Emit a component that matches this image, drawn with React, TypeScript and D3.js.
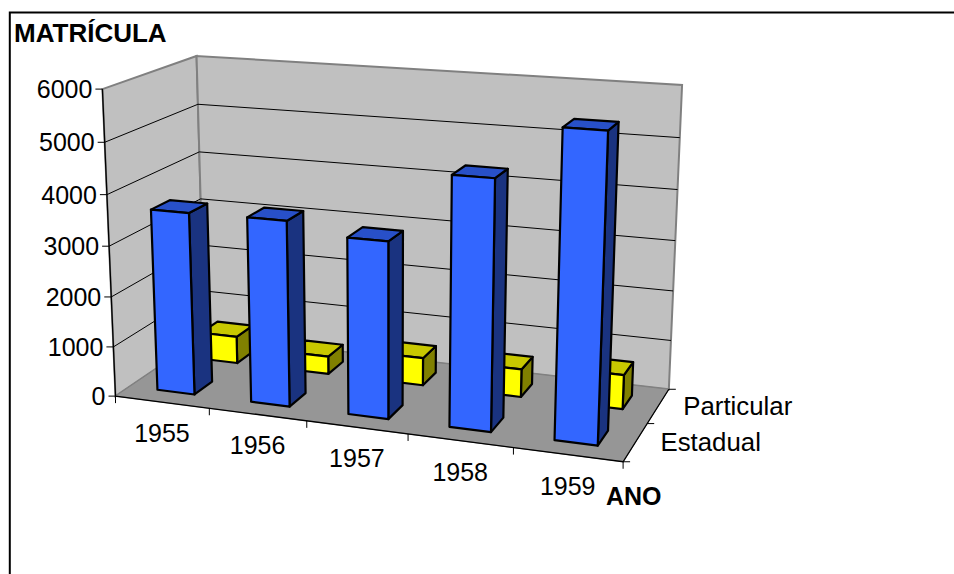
import React from "react";
import * as d3 from "d3";

const years = ["1955", "1956", "1957", "1958", "1959"];
const seriesNames = ["Estadual", "Particular"];
const estadual = [3620, 3640, 3430, 4760, 5750];
const particular = [560, 365, 560, 560, 680];
const valueTicks = [0, 1000, 2000, 3000, 4000, 5000, 6000];

const WIDTH = 954;
const HEIGHT = 574;

// Known corners of the plot box: [u, v, w] in unit space -> screen position.
const boxCorners: [number, number, number, number, number][] = [
  [0, 0, 0, 116, 396],
  [0, 1, 0, 102, 89],
  [0, 0, 1, 204, 336],
  [0, 1, 1, 197, 56],
  [1, 0, 0, 623, 462],
  [1, 0, 1, 669, 389],
  [1, 1, 1, 682, 85],
];

// Least-squares fit of a pinhole camera (11 unknowns) via normal equations.
function fitCamera(corners: typeof boxCorners) {
  const S = 1000;
  const rows: number[][] = [];
  const rhs: number[] = [];
  for (const [u, v, w, px, py] of corners) {
    const x = px / S;
    const y = py / S;
    rows.push([u, v, w, 1, 0, 0, 0, 0, -x * u, -x * v, -x * w]);
    rhs.push(x);
    rows.push([0, 0, 0, 0, u, v, w, 1, -y * u, -y * v, -y * w]);
    rhs.push(y);
  }
  const n = 11;
  const A = d3.range(n).map((i) => {
    const line = d3.range(n).map((j) => d3.sum(rows, (r) => r[i] * r[j]));
    line.push(d3.sum(rows, (r, k) => r[i] * rhs[k]));
    return line;
  });
  for (let i = 0; i < n; i++) {
    let p = i;
    for (let k = i + 1; k < n; k++) if (Math.abs(A[k][i]) > Math.abs(A[p][i])) p = k;
    [A[i], A[p]] = [A[p], A[i]];
    for (let k = 0; k < n; k++) {
      if (k === i) continue;
      const f = A[k][i] / A[i][i];
      for (let j = i; j <= n; j++) A[k][j] -= f * A[i][j];
    }
  }
  const c = A.map((line, i) => line[n] / line[i]);
  return (u: number, v: number, w: number): [number, number] => {
    const d = c[8] * u + c[9] * v + c[10] * w + 1;
    return [
      (S * (c[0] * u + c[1] * v + c[2] * w + c[3])) / d,
      (S * (c[4] * u + c[5] * v + c[6] * w + c[7])) / d,
    ];
  };
}

const project = fitCamera(boxCorners);

const uScale = d3.scaleBand<string>().domain(years).range([0, 1]).paddingInner(0).paddingOuter(0);
const vScale = d3.scaleLinear().domain([0, 6000]).range([0, 1]);
const wScale = d3.scaleBand<string>().domain(seriesNames).range([0, 1]);

const poly = (pts: [number, number][]) => (d3.line()(pts) ?? "") + "Z";

type Shade = { front: string; top: string; side: string };
const blueShade: Shade = { front: "#3366FF", top: "#2850C8", side: "#1A3380" };
const yellowShade: Shade = { front: "#FFFF00", top: "#C8C800", side: "#808000" };

// Bars take 40% of a category in both directions, as with a 150% gap.
const BAR_FRACTION = 0.4;

function Bar({ year, series, value, shade }: { year: string; series: string; value: number; shade: Shade }) {
  const uw = uScale.bandwidth();
  const ww = wScale.bandwidth();
  const u0 = uScale(year)! + (uw * (1 - BAR_FRACTION)) / 2;
  const u1 = u0 + uw * BAR_FRACTION;
  const w0 = wScale(series)! + (ww * (1 - BAR_FRACTION)) / 2;
  const w1 = w0 + ww * BAR_FRACTION;
  const v = vScale(value);
  const faces: [string, [number, number][]][] = [
    [shade.side, [project(u1, 0, w0), project(u1, 0, w1), project(u1, v, w1), project(u1, v, w0)]],
    [shade.top, [project(u0, v, w0), project(u1, v, w0), project(u1, v, w1), project(u0, v, w1)]],
    [shade.front, [project(u0, 0, w0), project(u1, 0, w0), project(u1, v, w0), project(u0, v, w0)]],
  ];
  return (
    <g stroke="#000" strokeWidth={2.2} strokeLinejoin="round">
      {faces.map(([fill, pts], i) => (
        <path key={i} d={poly(pts)} fill={fill} />
      ))}
    </g>
  );
}

const fontFamily = "'Liberation Sans', Arial, sans-serif";

export default function App() {
  const depthSteps = [0, 0.5, 1];
  return (
    <svg
      width={WIDTH}
      height={HEIGHT}
      viewBox={`0 0 ${WIDTH} ${HEIGHT}`}
      style={{ position: "absolute", left: 0, top: 0, background: "#fff" }}
    >
      {/* Chart frame, open on the right and at the bottom */}
      <path d={`M9.8 ${HEIGHT}V12.4H${WIDTH}`} fill="none" stroke="#000" strokeWidth={2} />

      {/* Walls and floor */}
      <path
        d={poly([project(0, 0, 0), project(0, 0, 1), project(0, 1, 1), project(0, 1, 0)])}
        fill="#C0C0C0"
        stroke="#808080"
        strokeWidth={2}
      />
      <path
        d={poly([project(0, 0, 1), project(1, 0, 1), project(1, 1, 1), project(0, 1, 1)])}
        fill="#C0C0C0"
        stroke="#808080"
        strokeWidth={2}
      />
      <path
        d={poly([project(0, 0, 0), project(1, 0, 0), project(1, 0, 1), project(0, 0, 1)])}
        fill="#969696"
        stroke="#808080"
        strokeWidth={1}
      />

      {/* Value gridlines across both walls */}
      {valueTicks.slice(1, -1).map((t) => {
        const v = vScale(t);
        return (
          <path
            key={t}
            d={d3.line()([project(0, v, 0), project(0, v, 1), project(1, v, 1)]) ?? ""}
            fill="none"
            stroke="#000"
            strokeWidth={1}
          />
        );
      })}

      {/* Axis lines */}
      <g fill="none" stroke="#000" strokeWidth={1}>
        <path d={d3.line()([project(0, 1, 0), project(0, 0, 0), project(1, 0, 0), project(1, 0, 1)]) ?? ""} strokeWidth={1.3} />
        {valueTicks.map((t) => {
          const [x, y] = project(0, vScale(t), 0);
          return <path key={t} d={`M${x} ${y}H${x - 7}`} />;
        })}
        {[...years.map((y) => uScale(y)!), 1].map((u) => {
          const [x, y] = project(u, 0, 0);
          return <path key={u} d={`M${x} ${y}V${y + 7}`} />;
        })}
        {depthSteps.map((w) => {
          const [x, y] = project(1, 0, w);
          return <path key={w} d={`M${x} ${y}H${x + 7}`} />;
        })}
      </g>

      {/* Bars, back row first so the front row overlaps it */}
      {years.map((y, i) => (
        <Bar key={y} year={y} series={seriesNames[1]} value={particular[i]} shade={yellowShade} />
      ))}
      {years.map((y, i) => (
        <Bar key={y} year={y} series={seriesNames[0]} value={estadual[i]} shade={blueShade} />
      ))}

      {/* Tick labels */}
      <g fontFamily={fontFamily} fontSize={25} fill="#000">
        {valueTicks.map((t) => {
          const [x, y] = project(0, vScale(t), 0);
          return (
            <text key={t} x={x - 10} y={y + 9} textAnchor="end">
              {t}
            </text>
          );
        })}
        {years.map((label) => {
          const [x, y] = project(uScale(label)! + uScale.bandwidth() / 2, 0, 0);
          return (
            <text key={label} x={x} y={y + 40} textAnchor="middle">
              {label}
            </text>
          );
        })}
      </g>
      <g fontFamily={fontFamily} fontSize={25.8} fill="#000">
        {seriesNames.map((s) => {
          const [x, y] = project(1, 0, wScale(s)! + wScale.bandwidth() / 2);
          return (
            <text key={s} x={x + 25} y={y + 9}>
              {s}
            </text>
          );
        })}
      </g>

      {/* Axis titles */}
      <g fontFamily={fontFamily} fill="#000" fontWeight="bold">
        <text x={14} y={42} fontSize={26}>MATRÍCULA</text>
        <text x={606} y={505} fontSize={25}>ANO</text>
      </g>
    </svg>
  );
}
